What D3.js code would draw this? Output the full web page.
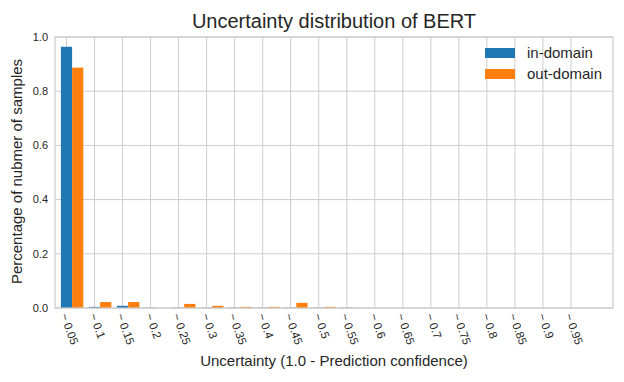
<!DOCTYPE html>
<html>
<head>
<meta charset="utf-8">
<script src="https://cdn.jsdelivr.net/npm/d3@7"></script>
<style>
  body { margin: 0; background: #fff; }
  text { font-family: "Liberation Sans", Arial, sans-serif; fill: #262626; }
</style>
</head>
<body>
<svg id="chart" width="624" height="382"></svg>
<script>
var categories = ['~ 0.05', '~ 0.1', '~ 0.15', '~ 0.2', '~ 0.25', '~ 0.3', '~ 0.35', '~ 0.4', '~ 0.45', '~ 0.5',
  '~ 0.55', '~ 0.6', '~ 0.65', '~ 0.7', '~ 0.75', '~ 0.8', '~ 0.85', '~ 0.9', '~ 0.95'];
var inDomain = [0.964, 0.004, 0.008, 0.001, 0.001, 0.001, 0.001, 0.001, 0.001, 0.001,
  0.001, 0, 0, 0, 0, 0, 0, 0, 0];
var outDomain = [0.887, 0.022, 0.022, 0, 0.015, 0.008, 0.004, 0.004, 0.019, 0.004,
  0, 0, 0, 0, 0, 0, 0, 0, 0];
var yTicks = [0, 0.2, 0.4, 0.6, 0.8, 1.0];
var seriesNames = ['in-domain', 'out-domain'];
var colors = ['#1f77b4', '#ff7f0e'];

var svg = d3.select('#chart');

var m = { left: 55, right: 11, top: 37, bottom: 74 },
  width = 624 - m.left - m.right,
  height = 382 - m.top - m.bottom;

var g = svg.append('g').attr('transform', 'translate(' + m.left + ',' + m.top + ')');

var barW = 0.4;
var x = d3.scaleLinear().domain([-0.41, 19.5]).range([0, width]);
var y = d3.scaleLinear().domain([0, 1]).range([height, 0]);

// grid
g.append('g').selectAll('line')
  .data(yTicks).enter()
  .append('line')
  .attr('x1', 0).attr('x2', width)
  .attr('y1', function(d) { return y(d); })
  .attr('y2', function(d) { return y(d); })
  .attr('stroke', '#cccccc').attr('stroke-width', 1);

g.append('g').selectAll('line')
  .data(categories).enter()
  .append('line')
  .attr('x1', function(d, i) { return x(i); })
  .attr('x2', function(d, i) { return x(i); })
  .attr('y1', 0).attr('y2', height)
  .attr('stroke', '#cccccc').attr('stroke-width', 1);

// bars
[inDomain, outDomain].forEach(function(series, s) {
  g.append('g').selectAll('rect')
    .data(series).enter()
    .append('rect')
    .attr('x', function(d, i) { return x(i - barW / 2 + s * barW); })
    .attr('width', x(barW) - x(0))
    .attr('y', function(d) { return y(d); })
    .attr('height', function(d) { return height - y(d); })
    .attr('fill', colors[s]);
});

// frame
g.append('rect')
  .attr('x', 0).attr('y', 0)
  .attr('width', width).attr('height', height)
  .attr('fill', 'none')
  .attr('stroke', '#cccccc').attr('stroke-width', 1.25);

// y tick labels
g.append('g').selectAll('text')
  .data(yTicks).enter()
  .append('text')
  .attr('x', -7)
  .attr('y', function(d) { return y(d); })
  .attr('dy', '0.35em')
  .attr('text-anchor', 'end')
  .style('font-size', '11px')
  .text(function(d) { return d3.format('.1f')(d); });

// x tick labels, rotated
var rot = 70, rad = rot * Math.PI / 180;
g.append('g').selectAll('text')
  .data(categories).enter()
  .append('text')
  .style('font-size', '11.5px')
  .attr('text-anchor', 'middle')
  .attr('dy', '0.35em')
  .text(function(d) { return d; })
  .each(function(d, i) {
    var L = this.getComputedTextLength(), h = 11;
    var bh = L * Math.sin(rad) + h * Math.cos(rad);
    var cx = x(i) + 3, cy = height + 4 + bh / 2;
    d3.select(this).attr('transform', 'translate(' + cx + ',' + cy + ') rotate(' + rot + ')');
  });

// titles
svg.append('text')
  .attr('x', m.left + width / 2).attr('y', 28)
  .attr('text-anchor', 'middle')
  .style('font-size', '20px')
  .text('Uncertainty distribution of BERT');

svg.append('text')
  .attr('x', m.left + width / 2).attr('y', 366)
  .attr('text-anchor', 'middle')
  .style('font-size', '15px')
  .text('Uncertainty (1.0 - Prediction confidence)');

svg.append('text')
  .attr('transform', 'translate(22,' + (m.top + height / 2 - 1) + ') rotate(-90)')
  .attr('text-anchor', 'middle')
  .style('font-size', '15px')
  .text('Percentage of nubmer of samples');

// legend
var legend = svg.append('g').attr('transform', 'translate(485,48)');
seriesNames.forEach(function(name, i) {
  legend.append('rect')
    .attr('x', 0).attr('y', i * 21)
    .attr('width', 30).attr('height', 10)
    .attr('fill', colors[i]);
  legend.append('text')
    .attr('x', 42).attr('y', i * 21 + 5)
    .attr('dy', '0.35em')
    .style('font-size', '15px')
    .text(name);
});
</script>
</body>
</html>
